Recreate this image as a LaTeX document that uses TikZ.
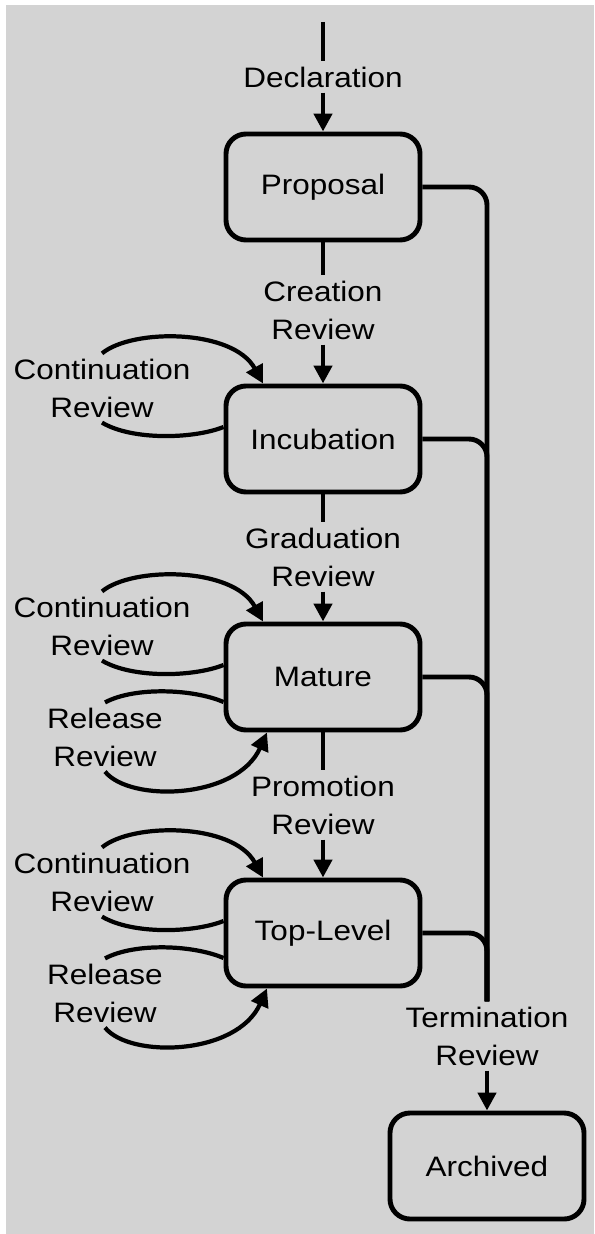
\documentclass[tikz,border=0pt]{standalone}
\usepackage{fontspec}
\setmainfont{Liberation Sans}[FakeStretch=1.12]
\usetikzlibrary{arrows.meta}
\definecolor{bggray}{RGB}{211,211,211}

\tikzset{
  every stage/.style={draw, line width=3.5pt, rounded corners=0.5cm,
    minimum width=4.85cm, minimum height=2.65cm, inner sep=0pt},
  every review/.style={align=center, inner sep=0.125cm},
  flow/.style={line width=3.5pt},
  loop arc/.style={line width=3pt}
}

\begin{document}
\begin{tikzpicture}[x=0.025cm, y=-0.025cm, >={Triangle[length=0.45cm, width=0.45cm]},
  font=\fontsize{20}{27}\selectfont]

\useasboundingbox (0,0) rectangle (594,1234);
\fill [white] (0,0) rectangle (594,1234);
\fill [bggray] (6,5) rectangle (594,1234);

\foreach \m/\l/\y in {proposal/Proposal/187, incubation/Incubation/439, mature/Mature/677, toplevel/Top-Level/933}
  \node [every stage] (\m) at (323,\y) {\l};
\node [every stage] (archived) at (487,1166) {Archived};

\coordinate (entry) at (323,22);
\node [every review] (declaration) at (323,77) {Declaration};
\foreach \m/\l/\y in {creation/Creation/310, graduation/Graduation/557, promotion/Promotion/805}
  \node [every review] (\m) at (323,\y) {\l\\Review};
\node [every review] (termination) at (487,1036) {Termination\\Review};

\draw [flow] (entry) -- (declaration);
\draw [flow, ->] (declaration) -- (proposal);
\foreach \a/\r/\b in {proposal/creation/incubation, incubation/graduation/mature, mature/promotion/toplevel} {
  \draw [flow] (\a) -- (\r);
  \draw [flow, ->] (\r) -- (\b);
}

\foreach \m in {proposal, incubation, mature, toplevel}
  \draw [flow, rounded corners=0.45cm] (\m.east) -| (termination.north);
\draw [flow, ->] (termination) -- (archived);

\foreach \m/\y in {incubation/439, mature/677, toplevel/933} {
  \node [every review] (continuation-\m) at (102,\y-51) {Continuation\\Review};
  \draw [loop arc, ->] (continuation-\m.north) .. controls +(30,-25) and +(-30,-55) .. ([xshift=-1.5cm]\m.north);
  \draw [loop arc] ([yshift=0.3cm]\m.west) .. controls +(-30,12) and +(30,18) .. (continuation-\m.south);
}

\foreach \m/\y in {mature/677, toplevel/933} {
  \node [every review] (release-\m) at (105,\y+60) {Release\\Review};
  \draw [loop arc] ([yshift=-0.625cm]\m.west) .. controls +(-30,-13) and +(30,-16) .. (release-\m.north);
  \draw [loop arc, ->] (release-\m.south) .. controls +(25,31) and +(-30,67) .. ([xshift=-1.4cm]\m.south);
}
\end{tikzpicture}
\end{document}
